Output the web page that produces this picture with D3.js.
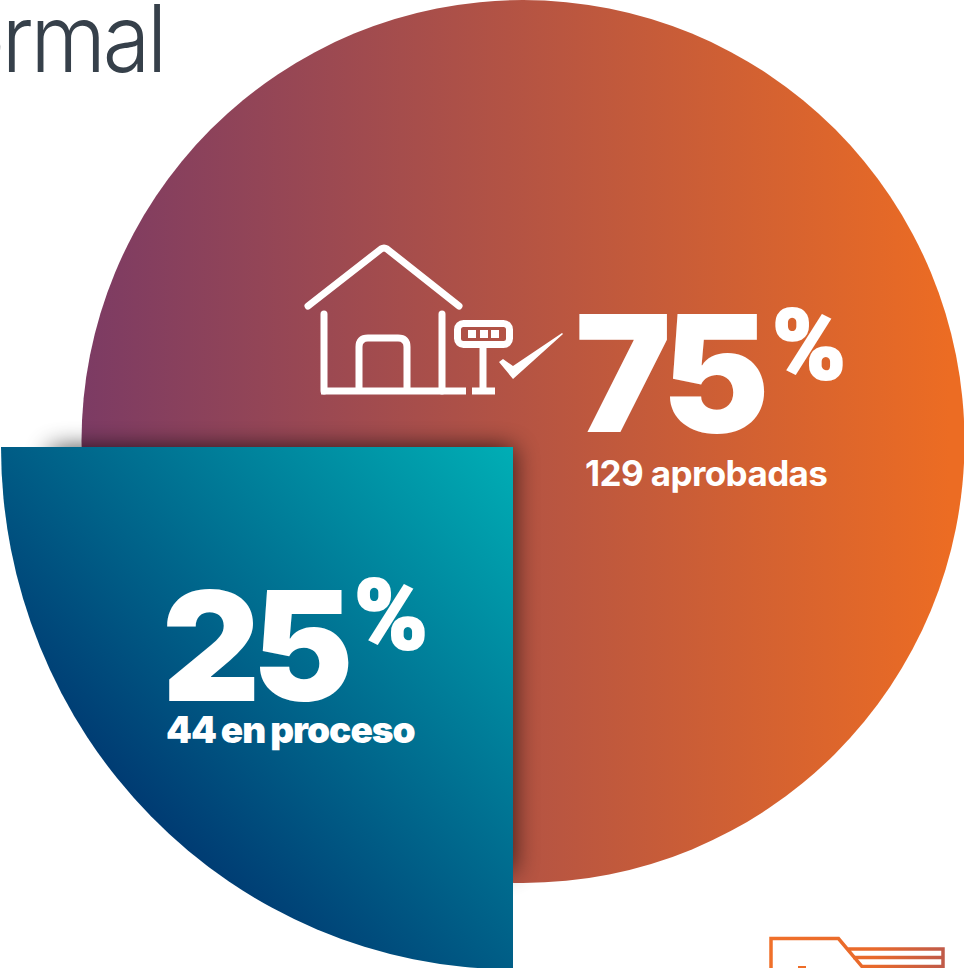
<!DOCTYPE html>
<html>
<head>
<meta charset="utf-8">
<script src="https://d3js.org/d3.v7.min.js"></script>
<style>
  html, body { margin: 0; padding: 0; background: #fff; overflow: hidden; }
  svg { display: block; }
  text { font-family: Inter, "Noto Sans", sans-serif; fill: #fff; }
</style>
</head>
<body>
<svg id="chart"></svg>
<script>
const categories = ["aprobadas", "en proceso"];
const shares = [75, 25];
const counts = [129, 44];
const titleFragment = "ormal";

const width = 964;
const height = 968;

const svg = d3.select("#chart").attr("width", width).attr("height", height);
const defs = svg.append("defs");

function addGradient(id, [x1, y1, x2, y2], stops) {
  const g = defs.append("linearGradient")
    .attr("id", id)
    .attr("gradientUnits", "userSpaceOnUse")
    .attr("x1", x1).attr("y1", y1).attr("x2", x2).attr("y2", y2);
  stops.forEach(([offset, color]) => {
    g.append("stop").attr("offset", offset).attr("stop-color", color);
  });
}

const discCenter = [523, 441.5];
const wedgeCenter = [513, 447];
const wedgeStretch = 1.02; // the wedge is very slightly taller than wide

addGradient("warm", [82, 0, 950, 0], [[0, "#7c3b64"], [1, "#ec6c23"]]);
// this one is used inside the wedge's translated and stretched frame
addGradient("cool", [150 - wedgeCenter[0], (810 - wedgeCenter[1]) / wedgeStretch, 0, 0],
  [[0, "#003c73"], [1, "#00aeb5"]]);
addGradient("folder", [770, 0, 944, 0], [[0, "#f0702a"], [0.6, "#e8692b"], [1, "#c05a48"]]);

defs.append("filter")
  .attr("id", "blur")
  .attr("x", "-20%").attr("y", "-20%").attr("width", "140%").attr("height", "140%")
  .append("feGaussianBlur")
  .attr("stdDeviation", 13);

// slice angles come from the shares, the small slice ends up lower left
const slices = d3.pie()
  .sort(null)
  .startAngle(-Math.PI / 2)
  .endAngle(1.5 * Math.PI)
  .value((d) => d)(shares);

const wedgeArc = (r) => d3.arc()
  .innerRadius(0)
  .outerRadius(r)
  .startAngle(slices[1].startAngle)
  .endAngle(slices[1].endAngle)();

// the big share sits on a full disc, the small one is pulled out on top of it
svg.append("circle")
  .attr("cx", discCenter[0])
  .attr("cy", discCenter[1])
  .attr("r", 441.5)
  .attr("fill", "url(#warm)");

// title fragment, clipped by the page edge in the original
svg.append("text")
  .attr("transform", "translate(164,72) scale(0.92,1)")
  .attr("text-anchor", "end")
  .attr("font-size", 94)
  .attr("font-weight", 350)
  .attr("letter-spacing", -3.5)
  .style("fill", "#36404a")
  .text(titleFragment);

// shadow is a smaller blurred copy so it never shows past the curved edge
svg.append("path")
  .attr("transform", `translate(${wedgeCenter}) scale(1,0.92)`)
  .attr("d", wedgeArc(462))
  .attr("fill", "#000")
  .attr("opacity", 0.72)
  .attr("filter", "url(#blur)");

svg.append("path")
  .attr("transform", `translate(${wedgeCenter}) scale(1,${wedgeStretch})`)
  .attr("d", wedgeArc(512))
  .attr("fill", "url(#cool)");

// big percentage labels
const labels = [
  { share: shares[0], count: counts[0], name: categories[0], numX: 575, numY: 432, numSize: 162, pctX: 772, pctY: 379, subX: 585, subY: 485.5, subSize: 35, subWeight: 700, subSpacing: -0.6, wordSpacing: 0 },
  { share: shares[1], count: counts[1], name: categories[1], numX: 162, numY: 701, numSize: 152, pctX: 354, pctY: 649, subX: 166, subY: 743, subSize: 37, subWeight: 900, subSpacing: -1, wordSpacing: -1.5 },
];

labels.forEach((d) => {
  svg.append("text")
    .attr("x", d.numX).attr("y", d.numY)
    .attr("font-size", d.numSize).attr("font-weight", 900)
    .attr("letter-spacing", -8)
    .text(d.share);
  svg.append("text")
    .attr("x", d.pctX).attr("y", d.pctY)
    .attr("font-size", 98).attr("font-weight", 900)
    .style("font-family", "Roboto")
    .attr("textLength", 74)
    .attr("lengthAdjust", "spacingAndGlyphs")
    .attr("stroke", "#fff")
    .attr("stroke-width", 2)
    .text("%");
  svg.append("text")
    .attr("x", d.subX).attr("y", d.subY)
    .attr("font-size", d.subSize).attr("font-weight", d.subWeight)
    .attr("letter-spacing", d.subSpacing)
    .attr("word-spacing", d.wordSpacing)
    .text(`${d.count} ${d.name}`);
});

// house icon
const icon = svg.append("g")
  .attr("fill", "none")
  .attr("stroke", "#fff")
  .attr("stroke-width", 7);

icon.append("path").attr("d", "M308,306L381,249Q384,247,387,249L459,306").attr("stroke-linecap", "round");
icon.append("path").attr("d", "M324,314V391M442,314V391").attr("stroke-linecap", "round");
icon.append("path").attr("d", "M321,391H466M472,391H495");
icon.append("path").attr("d", "M359,391V347Q359,338,368,338H398Q407,338,407,347V391");
icon.append("rect").attr("x", 457.5).attr("y", 323.5).attr("width", 52).attr("height", 21).attr("rx", 6);
icon.append("path").attr("d", "M483,348V391");

icon.append("g").attr("stroke", "none").attr("fill", "#fff")
  .selectAll("rect")
  .data([468, 480, 491])
  .join("rect")
  .attr("x", (d) => d).attr("y", 330).attr("width", 8).attr("height", 8);

svg.append("path")
  .attr("d", "M499,362L503,359L513,366L562,333L563,334L513,379Z")
  .attr("fill", "#fff");

// corner of the next graphic, cut off by the page
const folder = svg.append("g")
  .attr("fill", "none")
  .attr("stroke", "url(#folder)")
  .attr("stroke-width", 3.5);

folder.append("path").attr("d", "M771,968V938.5H838.5L862,966.5H943V949H848");
folder.append("path").attr("d", "M853,957.5H943");
svg.append("rect").attr("x", 798).attr("y", 966).attr("width", 8).attr("height", 2).attr("fill", "#ee6d28");
</script>
</body>
</html>
